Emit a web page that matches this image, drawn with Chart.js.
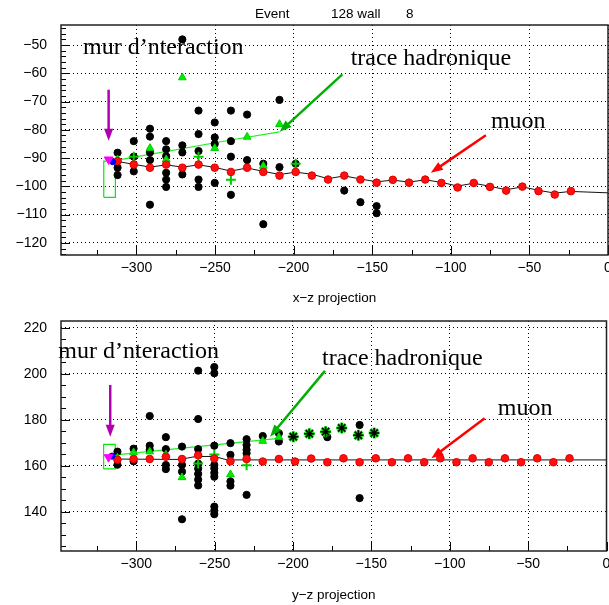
<!DOCTYPE html>
<html>
<head>
<meta charset="utf-8">
<script src="https://cdn.jsdelivr.net/npm/chart.js@4/dist/chart.umd.min.js"></script>
<style>
  body { margin: 0; background: #fff; overflow: hidden; }
  #wrap { position: relative; width: 609px; height: 605px; overflow: hidden; }
  canvas { position: absolute; left: 0; }
</style>
</head>
<body>
<div id="wrap">
  <canvas id="yzChart" width="615" height="303" style="top:302px"></canvas>
  <canvas id="xzChart" width="615" height="310" style="top:0"></canvas>
</div>
<script>
// detector planes (z) hit by the muon
const zPlanes = [-312, -301.7, -291.4, -281.1, -270.8, -260.5, -250.2, -239.9, -229.6, -219.3,
  -209, -198.7, -188.4, -178.1, -167.8, -157.5, -147.2, -136.9, -126.6, -116.3,
  -106, -95.7, -85.4, -75.1, -64.8, -54.5, -44.2, -33.9, -23.6];

// muon hits, x-z view and y-z view
const muonX = [-91.1, -92.3, -93.4, -92.3, -93.4, -92.3, -93.4, -94.9, -93.4, -94.9,
  -96.2, -94.9, -96.2, -97.6, -96.2, -97.6, -98.7, -97.7, -98.7, -97.6,
  -98.8, -100.4, -98.8, -100.2, -101.5, -100.1, -101.7, -102.9, -101.7];
const muonY = [162.7, 163, 163, 164, 163, 164.6, 163.2, 162, 163, 161.9,
  163, 161.9, 163.2, 161.6, 163.3, 161.6, 163.3, 161.6, 163.3, 161.6,
  163.3, 161.6, 163.3, 161.6, 163.3, 161.6, 163.3, 161.6, 163.3];

// fitted muon track
const muonFitXZ_z = [-316, -312, -301.7, -291.4, -281.1, -270.8, -260.5, -250.2, -239.9, -229.6, -219.3,
  -209, -198.7, -188.4, -178.1, -167.8, -157.5, -147.2, -136.9, -126.6, -116.3,
  -106, -95.7, -85.4, -75.1, -64.8, -54.5, -44.2, -33.9, -23.6, 0];
const muonFitXZ_x = [-91.2, -91.2, -92.2, -93.2, -92.4, -93.2, -92.4, -93.3, -94.6, -93.5, -94.7,
  -95.8, -95, -95.7, -97.3, -96.3, -97.4, -98.4, -97.8, -98.5, -97.7,
  -98.6, -99.9, -98.9, -100, -101.2, -100.2, -101.4, -102.4, -101.8, -102.3];
const muonFitYZ_z = [-316, -272, -262, -250, -242, 0];
const muonFitYZ_y = [163, 162.8, 164.1, 164.1, 162.6, 162.6];

// hadronic track fit
const hadFitXZ_z = [-313, -240, -209];
const hadFitXZ_x = [-90.8, -83.6, -80.7];
const hadFitYZ_z = [-313, -209];
const hadFitYZ_y = [164.8, 172];

// other hits [z, value]
const blackXZ = [
  [-312, -88.1], [-312, -93.4], [-312, -96],
  [-301.7, -84], [-301.7, -89.5], [-301.7, -94.7],
  [-291.4, -79.6], [-291.4, -82.4], [-291.4, -88], [-291.4, -90.7], [-291.4, -106.5],
  [-281.1, -84], [-281.1, -86.9], [-281.1, -89.3], [-281.1, -95.2], [-281.1, -97.6], [-281.1, -100.2],
  [-270.8, -48], [-270.8, -85.5], [-270.8, -88], [-270.8, -95.8],
  [-260.5, -73.2], [-260.5, -81.5], [-260.5, -87.5], [-260.5, -97.6], [-260.5, -100.2],
  [-250.2, -77.4], [-250.2, -82.7], [-250.2, -85], [-250.2, -98.8],
  [-239.9, -73.2], [-239.9, -84], [-239.9, -89.5], [-239.9, -103],
  [-229.6, -74.6], [-229.6, -90.7],
  [-219.3, -92], [-219.3, -113.4],
  [-209, -69.4], [-209, -93.2],
  [-198.7, -92],
  [-167.8, -101.5], [-157.5, -105.6], [-147.2, -107], [-147.2, -109.5]
];
const greenTriXZ = [[-312, -90.5], [-291.4, -86.5], [-281.1, -90.5], [-270.8, -61.5],
  [-250.2, -86.5], [-229.6, -82.5], [-219.3, -92.8], [-209, -78]];
const greenPlusXZ = [[-301.7, -89.5], [-260.5, -89.5], [-239.9, -97.7], [-198.7, -92]];

const blackYZ = [
  [-312, 166.2], [-312, 160.5],
  [-301.7, 167.5], [-301.7, 162],
  [-291.4, 181.7], [-291.4, 168.8], [-291.4, 167],
  [-281.1, 172.5], [-281.1, 167.3], [-281.1, 160.4], [-281.1, 158.6],
  [-270.8, 168.4], [-270.8, 160.4], [-270.8, 157.5], [-270.8, 136.8],
  [-260.5, 201.4], [-260.5, 180.4], [-260.5, 167.3], [-260.5, 161], [-260.5, 158.8],
  [-260.5, 156.5], [-260.5, 154], [-260.5, 151.5],
  [-250.2, 203], [-250.2, 200.3], [-250.2, 168.8], [-250.2, 160.4], [-250.2, 158.9],
  [-250.2, 157], [-250.2, 155.3], [-250.2, 142.3], [-250.2, 140.5], [-250.2, 139],
  [-239.9, 169.9], [-239.9, 164.8], [-239.9, 153.3], [-239.9, 151.4],
  [-229.6, 171.6], [-229.6, 169.1], [-229.6, 167], [-229.6, 165.5], [-229.6, 147.4],
  [-219.3, 173],
  [-209, 174.2], [-209, 170.6],
  [-178.1, 172.5],
  [-157.5, 177.8], [-157.5, 146]
];
const greenTriYZ = [[-312, 163.5], [-301.7, 165.8], [-291.4, 166.2], [-281.1, 164.8],
  [-270.8, 155], [-239.9, 156.3], [-219.3, 170.8], [-209, 172.5]];
const greenPlusYZ = [[-260.5, 161], [-250.2, 165], [-229.6, 160.3]];
const starYZ = [[-199.8, 172.7], [-189.6, 174], [-179.2, 174.9], [-168.9, 176.5], [-158.3, 173.3], [-148.2, 174.3]];

// interaction vertex markers
const vertexXZ = [[-317.7, -90.5]];
const vertexBlueXZ = [[-315.1, -91.3]];
const vertexYZ = [[-317.7, 163.8]];
const vertexBlueYZ = [[-315.5, 164.3]];

// wall box [zmin, zmax, vmin, vmax]
const wallXZ = [-320.8, -313.4, -103.9, -91.1];
const wallYZ = [-320.8, -313.4, 158.7, 169.4];

// axes
const zTicks = [-300, -250, -200, -150, -100, -50, 0];
const xTicks = [-120, -110, -100, -90, -80, -70, -60, -50];
const yTicks = [140, 160, 180, 200, 220];

// annotations: arrows and labels [text, z, v]
const arrowsXZ = [
  { from: [-317.7, -65.8], to: [-317.7, -83.9], color: '#b000b0' },
  { from: [-169, -60.4], to: [-208.9, -80.7], color: '#00b000' },
  { from: [-77.7, -81.9], to: [-112.7, -95.2], color: '#ff0000' }
];
const arrowsYZ = [
  { from: [-316.6, 195.2], to: [-316.6, 172.7], color: '#b000b0' },
  { from: [-179.6, 201.3], to: [-214.6, 172.7], color: '#00b000' },
  { from: [-77.7, 180.7], to: [-111.7, 163.3], color: '#ff0000' }
];
const labelsXZ = [['mur d\u2019nteraction', -334, -53.2], ['trace hadronique', -163.7, -57.1], ['muon', -74.5, -79.4]];
const labelsYZ = [['mur d\u2019nteraction', -349.7, 206.8], ['trace hadronique', -181.5, 203.9], ['muon', -69.4, 182.2]];

function pairs(list) { return list.map(p => ({ x: p[0], y: p[1] })); }
function zip(zs, vs) { return zs.map((z, i) => ({ x: z, y: vs[i] })); }
function box(b) {
  return [{ x: b[0], y: b[2] }, { x: b[1], y: b[2] }, { x: b[1], y: b[3] }, { x: b[0], y: b[3] }, { x: b[0], y: b[2] }];
}
function minus(v) { return String(v).replace('-', '\u2212'); }

const decor = {
  id: 'decor',
  afterDatasetsDraw(chart, args, opts) {
    const ctx = chart.ctx;
    const xs = chart.scales.x, ys = chart.scales.y;
    const a = chart.chartArea;
    ctx.save();
    // inward ticks
    ctx.strokeStyle = '#000';
    ctx.lineWidth = 1;
    ctx.beginPath();
    for (let v = Math.ceil(xs.min / 25) * 25; v <= xs.max; v += 25) {
      const px = Math.round(xs.getPixelForValue(v)) + 0.5;
      const len = v % 50 === 0 ? 9 : 5;
      ctx.moveTo(px, a.bottom); ctx.lineTo(px, a.bottom - len);
    }
    const step = opts.minorY;
    for (let v = Math.ceil(ys.min / step) * step; v <= ys.max; v += step) {
      const py = Math.round(ys.getPixelForValue(v)) + 0.5;
      const len = Math.abs(v % opts.majorY) < 1e-6 ? 9 : 5;
      ctx.moveTo(a.left, py); ctx.lineTo(a.left + len, py);
    }
    ctx.stroke();
    // frame
    ctx.lineWidth = 1.5;
    ctx.strokeStyle = '#222';
    ctx.strokeRect(a.left, a.top, a.right - a.left, a.bottom - a.top);
    // arrows
    opts.arrows.forEach(ar => {
      const x0 = xs.getPixelForValue(ar.from[0]), y0 = ys.getPixelForValue(ar.from[1]);
      const x1 = xs.getPixelForValue(ar.to[0]), y1 = ys.getPixelForValue(ar.to[1]);
      const ang = Math.atan2(y1 - y0, x1 - x0);
      const hl = 12, hw = 4.5;
      ctx.strokeStyle = ar.color;
      ctx.fillStyle = ar.color;
      ctx.lineWidth = 2.5;
      ctx.beginPath();
      ctx.moveTo(x0, y0);
      ctx.lineTo(x1 - Math.cos(ang) * hl * 0.8, y1 - Math.sin(ang) * hl * 0.8);
      ctx.stroke();
      ctx.beginPath();
      ctx.moveTo(x1, y1);
      ctx.lineTo(x1 - Math.cos(ang) * hl - Math.sin(ang) * hw, y1 - Math.sin(ang) * hl + Math.cos(ang) * hw);
      ctx.lineTo(x1 - Math.cos(ang) * hl + Math.sin(ang) * hw, y1 - Math.sin(ang) * hl - Math.cos(ang) * hw);
      ctx.closePath();
      ctx.fill();
    });
    // labels
    ctx.fillStyle = '#000';
    ctx.font = '24px "Liberation Serif", "Times New Roman", serif';
    ctx.textBaseline = 'alphabetic';
    ctx.textAlign = 'left';
    opts.labels.forEach(l => {
      ctx.fillText(l[0], xs.getPixelForValue(l[1]), ys.getPixelForValue(l[2]));
    });
    // axis title
    ctx.font = '13.5px "Liberation Sans", Arial, sans-serif';
    ctx.textAlign = 'center';
    ctx.textBaseline = 'middle';
    ctx.fillText(opts.axisTitle, (a.left + a.right) / 2, a.bottom + opts.titleGap);
    if (opts.title) {
      ctx.textAlign = 'left';
      ctx.fillText('Event', 255, 14);
      ctx.fillText('128 wall', 331, 14);
      ctx.fillText('8', 406, 14);
    }
    ctx.restore();
  }
};

function makeChart(id, cfg) {
  const datasets = [
    { data: box(cfg.wall), showLine: true, borderColor: '#00ee00', borderWidth: 1.2, pointRadius: 0, order: 9 },
    { data: cfg.hadLine, showLine: true, borderColor: '#22ee22', borderWidth: 1.2, pointRadius: 0, order: 8 },
    { data: cfg.muonLine, showLine: true, borderColor: '#111', borderWidth: 1, pointRadius: 0, order: 7 },
    { data: cfg.black, pointStyle: 'circle', pointRadius: 3.6, backgroundColor: '#000', borderColor: '#000', order: 6 },
    { data: cfg.greenTri, pointStyle: 'triangle', pointRadius: 4.5, backgroundColor: '#00ee00', borderColor: '#00cc00', order: 5 },
    { data: cfg.greenPlus, pointStyle: 'cross', pointRadius: 5, borderColor: '#00cc00', borderWidth: 2, order: 5 },
    { data: cfg.stars, pointStyle: 'star', pointRadius: 5.5, borderColor: '#00dd00', borderWidth: 3, order: 4 },
    { data: cfg.stars, pointStyle: 'star', pointRadius: 5, borderColor: '#000', borderWidth: 1.5, order: 3 },
    { data: cfg.muon, pointStyle: 'circle', pointRadius: 3.8, backgroundColor: '#ff1010', borderColor: '#dd0000', borderWidth: 1, order: 2 },
    { data: cfg.vertex, pointStyle: 'triangle', rotation: 180, pointRadius: 5, backgroundColor: '#ff00ff', borderColor: '#ff00ff', order: 1 },
    { data: cfg.vertexBlue, pointStyle: 'circle', pointRadius: 3, backgroundColor: '#0000ff', borderColor: '#0000ff', order: 1 }
  ];
  return new Chart(document.getElementById(id), {
    type: 'scatter',
    data: { datasets },
    plugins: [decor],
    options: {
      responsive: false,
      animation: false,
      devicePixelRatio: 1,
      layout: { padding: { top: cfg.padTop, right: 0, left: 0, bottom: 0 } },
      plugins: {
        legend: { display: false },
        tooltip: { enabled: false },
        decor: { arrows: cfg.arrows, labels: cfg.labels, minorY: cfg.minorY, majorY: cfg.majorY,
          axisTitle: cfg.axisTitle, titleGap: cfg.titleGap, title: cfg.title }
      },
      scales: {
        x: {
          type: 'linear', min: -348, max: 0,
          afterBuildTicks: s => { s.ticks = zTicks.map(v => ({ value: v })); },
          afterFit: s => { s.height = cfg.xHeight; s.paddingLeft = 0; s.paddingRight = 0; },
          ticks: { callback: minus, color: '#000', padding: 5, maxRotation: 0,
            font: { family: '"Liberation Sans", Arial, sans-serif', size: 14 } },
          grid: { color: '#000', lineWidth: 1, drawTicks: false },
          border: { display: false, dash: [1, 3] }
        },
        y: {
          type: 'linear', min: cfg.yMin, max: cfg.yMax,
          afterBuildTicks: s => { s.ticks = cfg.yTicks.map(v => ({ value: v })); },
          afterFit: s => { s.width = 61; s.paddingTop = 0; s.paddingBottom = 0; },
          ticks: { callback: minus, color: '#000', padding: 14,
            font: { family: '"Liberation Sans", Arial, sans-serif', size: 14 } },
          grid: { color: '#000', lineWidth: 1, drawTicks: false },
          border: { display: false, dash: [1, 3] }
        }
      }
    }
  });
}

makeChart('xzChart', {
  wall: wallXZ, hadLine: zip(hadFitXZ_z, hadFitXZ_x), muonLine: zip(muonFitXZ_z, muonFitXZ_x),
  black: pairs(blackXZ), greenTri: pairs(greenTriXZ), greenPlus: pairs(greenPlusXZ), stars: [],
  muon: zip(zPlanes, muonX), vertex: pairs(vertexXZ), vertexBlue: pairs(vertexBlueXZ),
  arrows: arrowsXZ, labels: labelsXZ, yTicks: xTicks, yMin: -124.3, yMax: -42.9,
  minorY: 2, majorY: 10, padTop: 25, xHeight: 55, axisTitle: 'x\u2212z projection', titleGap: 43, title: true
});

makeChart('yzChart', {
  wall: wallYZ, hadLine: zip(hadFitYZ_z, hadFitYZ_y), muonLine: zip(muonFitYZ_z, muonFitYZ_y),
  black: pairs(blackYZ), greenTri: pairs(greenTriYZ), greenPlus: pairs(greenPlusYZ), stars: pairs(starYZ),
  muon: zip(zPlanes, muonY), vertex: pairs(vertexYZ), vertexBlue: pairs(vertexBlueYZ),
  arrows: arrowsYZ, labels: labelsYZ, yTicks: yTicks, yMin: 123, yMax: 223,
  minorY: 5, majorY: 20, padTop: 19, xHeight: 54, axisTitle: 'y\u2212z projection', titleGap: 44, title: false
});
</script>
</body>
</html>
